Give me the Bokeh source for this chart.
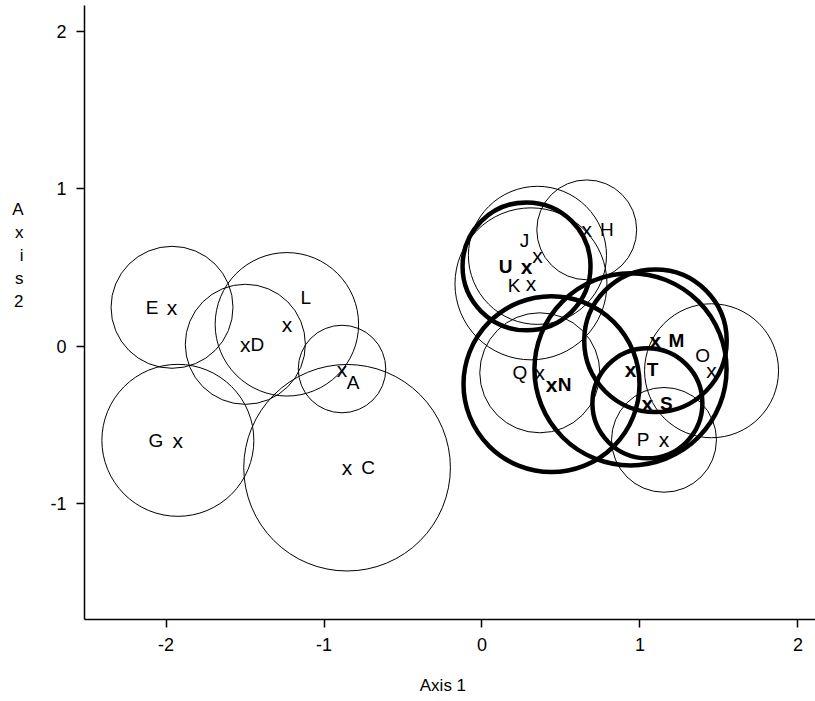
from bokeh.plotting import figure
from bokeh.models import ColumnDataSource, FixedTicker, Range1d
from bokeh.core.properties import value
from bokeh.embed import file_html
from bokeh.resources import INLINE

# ---- data ----
names  = ["A", "C", "D", "E", "G", "L", "H", "J", "K", "Q", "O", "P",
          "U", "N", "M", "T", "S"]
axis1  = [-0.886, -0.854, -1.498, -1.962, -1.925, -1.235, 0.663, 0.351, 0.310,
          0.366, 1.453, 1.152, 0.282, 0.440, 1.098, 0.940, 1.047]
axis2  = [-0.146, -0.773, 0.011, 0.246, -0.599, 0.138, 0.738, 0.576, 0.395,
          -0.170, -0.157, -0.596, 0.506, -0.242, 0.033, -0.148, -0.364]
radius = [0.277, 0.654, 0.380, 0.386, 0.481, 0.454, 0.316, 0.437, 0.481,
          0.380, 0.424, 0.332, 0.405, 0.557, 0.451, 0.608, 0.348]
highlighted = [False] * 12 + [True] * 5
x_ticks = [-2, -1, 0, 1, 2]
y_ticks = [-1, 0, 1, 2]
tick_text = {-2: "-2", -1: "-1", 0: "0", 1: "1", 2: "2"}

# ---- label placement (style: pixel offsets of the letter from its point) ----
label_dx = [11, 21, 12, -20, -22, 19, 20, -13, -17, -20, -9, -21, -21, 13, 21, 22, 19]
label_dy = [13, 0, 0, 0, 0, -27, 0, -15, 2, 0, -15, 0, 0, 0, 0, 0, 0]

FONT_NAME = "Liberation Sans"
FONT = value(FONT_NAME)

def subset(flag):
    idx = [i for i, h in enumerate(highlighted) if h == flag]
    return ColumnDataSource(dict(
        x=[axis1[i] for i in idx], y=[axis2[i] for i in idx],
        r=[radius[i] for i in idx], name=[names[i] for i in idx],
        mark=["x"] * len(idx),
        dx=[label_dx[i] for i in idx], dy=[label_dy[i] for i in idx],
    ))

p = figure(width=815, height=701,
           x_range=Range1d(-2.516, 2.111), y_range=Range1d(-1.737, 2.163),
           output_backend="svg", toolbar_location=None,
           min_border=0, min_border_left=84, min_border_right=0,
           min_border_top=5, min_border_bottom=82)
p.outline_line_color = None
p.grid.visible = False
p.background_fill_color = "white"
p.border_fill_color = "white"

for ax, ticks in ((p.xaxis, x_ticks), (p.yaxis, y_ticks)):
    ax.ticker = FixedTicker(ticks=ticks)
    ax.major_label_overrides = {t: tick_text[t] for t in ticks}
    ax.axis_line_width = 1.5
    ax.axis_line_color = "black"
    ax.major_tick_line_width = 1.5
    ax.major_tick_line_color = "black"
    ax.major_tick_out = 8
    ax.major_tick_in = 0
    ax.minor_tick_line_color = None
    ax.major_label_text_font = FONT_NAME
    ax.major_label_text_font_size = "18px"
    ax.major_label_text_color = "black"
    ax.major_label_standoff = 10

# trailing non-breaking spaces nudge the centred title slightly left
p.xaxis.axis_label = "Axis 1" + "\u00a0" * 3
p.xaxis.axis_label_text_font = FONT_NAME
p.xaxis.axis_label_text_font_size = "17px"
p.xaxis.axis_label_text_font_style = "normal"
p.xaxis.axis_label_text_color = "black"
p.xaxis.axis_label_standoff = 22

# stacked, upright letters; blank trailing lines lift the block above centre
p.yaxis.axis_label = "A\nx\ni\ns\n2" + "\n\u00a0" * 5
p.yaxis.axis_label_orientation = "horizontal"
p.yaxis.axis_label_text_font = FONT_NAME
p.yaxis.axis_label_text_font_size = "17px"
p.yaxis.axis_label_text_font_style = "normal"
p.yaxis.axis_label_text_color = "black"
p.yaxis.axis_label_text_align = "center"
p.yaxis.axis_label_standoff = 24

for flag, lw, style in ((False, 1.0, "normal"), (True, 4.5, "bold")):
    src = subset(flag)
    p.circle(x="x", y="y", radius="r", source=src, fill_color=None,
             line_color="black", line_width=lw)
    p.text(x="x", y="y", text="mark", source=src, text_font=FONT,
           text_font_size="21px", text_font_style=style, text_color="black",
           text_align="center", text_baseline="middle")
    p.text(x="x", y="y", text="name", source=src, text_font=FONT,
           text_font_size="19px", text_font_style=style, text_color="black",
           text_align="center", text_baseline="middle",
           x_offset="dx", y_offset="dy")

open("out.html", "w").write(file_html(p, INLINE))
